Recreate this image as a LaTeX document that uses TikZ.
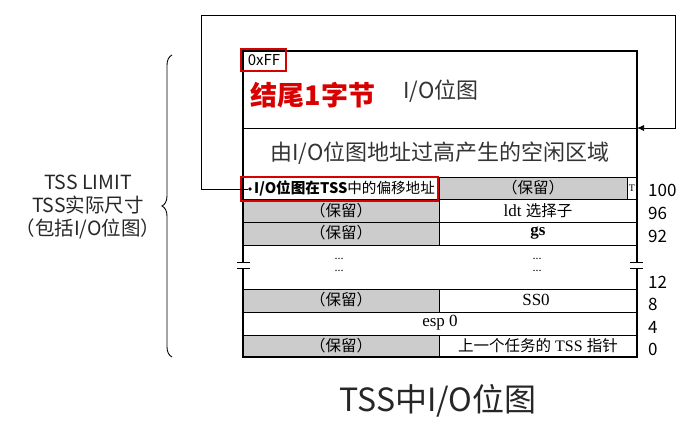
\documentclass[tikz,border=0pt]{standalone}
\usepackage{fontspec}
\setmainfont{Liberation Serif}
\newfontfamily\cjk{Noto Sans CJK SC}
\usetikzlibrary{decorations.pathreplacing,arrows.meta}

\begin{document}
\begin{tikzpicture}[x=1pt, y=-1pt,
    grid/.style={line width=0.6pt},
    resv/.style={fill=black!20},
    txt/.style={inner sep=0pt, font=\fontsize{17}{17}\selectfont},
    cjktxt/.style={inner sep=0pt, font=\cjk\fontsize{15.5}{15.5}\selectfont},
    dots/.style={inner sep=0pt, text height=2pt, text depth=0pt, font=\fontsize{12}{12}\selectfont},
    num/.style={anchor=west, inner sep=0pt, font=\cjk\fontsize{17}{17}\selectfont},
    redbox/.style={draw=red!85!black, line width=1.8pt}]
    \useasboundingbox (0,0) rectangle (682,423);
    % gray cells
    \fill[resv] (439,177) rectangle (627,199);
    \fill[resv] (243,199) rectangle (439,245);
    \fill[resv] (243,289) rectangle (439,312);
    \fill[resv] (243,335) rectangle (439,357);
    % table lines
    \draw[grid] (243,128) -- (637,128);
    \draw[grid] (243,177) -- (637,177);
    \foreach \y in {199,222,245,289,312,335}
        \draw[grid] (243,\y) -- (637,\y);
    \draw[grid] (439,177) -- (439,245);
    \draw[grid] (439,289) -- (439,312);
    \draw[grid] (439,335) -- (439,357);
    \draw[grid] (627,177) -- (627,199);
    \draw[line width=1.2pt] (243,262) -- (243,51) -- (637,51) -- (637,262);
    \draw[line width=1.2pt] (243,268) -- (243,357) -- (637,357) -- (637,268);
    \draw[line width=0.8pt] (237,262) -- (250,262) (237,268) -- (250,268);
    \draw[line width=0.8pt] (630,262) -- (643,262) (630,268) -- (643,268);
    % top area
    \node (ff) at (264,60) [inner sep=0pt, font=\cjk\fontsize{15}{15}\selectfont] {0xFF};
    \draw[redbox] (241,49) rectangle (286,71);
    \node (end) at (313,95) [inner sep=0pt, text=red!85!black, font=\cjk\bfseries\fontsize{27}{27}\selectfont] {结尾1字节};
    \node (bmp) at (441,91) [inner sep=0pt, text=black!80, font=\cjk\fontsize{22}{22}\selectfont] {I/O位图};
    \node (free) at (440,153) [inner sep=0pt, text=black!80, font=\cjk\fontsize{22}{22}\selectfont] {由I/O位图地址过高产生的空闲区域};
    % rows
    \node (ofs) at (254,188) [anchor=west, inner sep=0pt, font=\cjk\fontsize{14.6}{14.6}\selectfont] {{\bfseries I/O位图在TSS}中的偏移地址};
    \draw[redbox] (241,177) rectangle (438,201);
    \node (r100) at (533,188) [cjktxt] {（保留）};
    \node (t) at (632,188) [inner sep=0pt, font=\fontsize{10}{10}\selectfont] {T};
    \node (r96a) at (341,211) [cjktxt] {（保留）};
    \node (r96b) at (538,211) [txt] {ldt {\cjk\fontsize{15.5}{15.5}\selectfont 选择子}};
    \node (r92a) at (341,233) [cjktxt] {（保留）};
    \node (r92b) at (538,233) [txt, font=\bfseries\fontsize{17}{17}\selectfont] {gs};
    \node (d1) at (339,258) [dots] {...};
    \node (d2) at (339,270) [dots] {...};
    \node (d3) at (537,258) [dots] {...};
    \node (d4) at (537,270) [dots] {...};
    \node (r8a) at (341,300) [cjktxt] {（保留）};
    \node (r8b) at (536,300) [txt] {SS0};
    \node (r4) at (440,323) [txt] {esp 0};
    \node (r0a) at (341,346) [cjktxt] {（保留）};
    \node (r0b) at (538,346) [txt, font=\fontsize{16}{16}\selectfont] {{\cjk\fontsize{15.5}{15.5}\selectfont 上一个任务的} TSS {\cjk\fontsize{15.5}{15.5}\selectfont 指针}};
    % offsets
    \node (n100) at (648,190) [num] {100};
    \node (n96) at (648,213) [num] {96};
    \node (n92) at (648,236) [num] {92};
    \node (n12) at (648,282) [num] {12};
    \node (n8) at (648,304) [num] {8};
    \node (n4) at (648,327) [num] {4};
    \node (n0) at (648,349) [num] {0};
    % pointer loop
    \node (dot) at (250,189) [circle, fill, inner sep=1.3pt] {};
    \coordinate (ret) at (637,128);
    \draw[line width=0.7pt, -{Latex[length=7pt,width=6pt]}] (dot) -- (201,189) -- (201,15) -- (675,15) -- (675,128) -- (ret);
    % brace and limit label
    \draw[line width=0.9pt, decorate, decoration={brace, amplitude=10pt}] (172,357) -- (172,55);
    \node (limit) at (88,207) [align=center, inner sep=0pt, text=black!85, font=\cjk\fontsize{19.5}{23}\selectfont] {TSS LIMIT\\TSS实际尺寸\\（包括I/O位图）};
    % caption
    \node (title) at (438,401) [inner sep=0pt, text=black!85, font=\cjk\fontsize{32}{32}\selectfont] {TSS中I/O位图};
\end{tikzpicture}
\end{document}
